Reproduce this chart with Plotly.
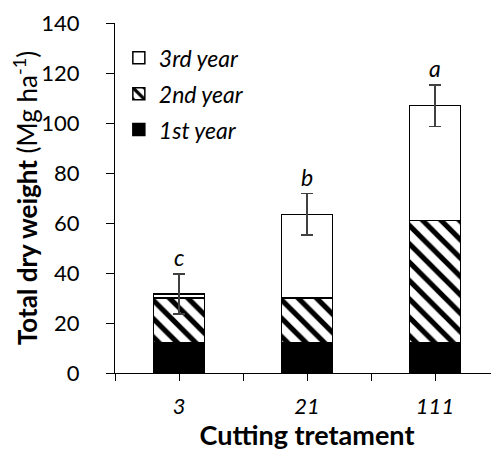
import plotly.graph_objects as go

categories = ["3", "21", "111"]
year1 = [12, 12, 12]
year2 = [18, 18, 49]
year3 = [1.7, 33.5, 46]
errors = [8, 8.3, 8.3]
letters = ["c", "b", "a"]
y_ticks = [0, 20, 40, 60, 80, 100, 120, 140]

pos = list(range(len(categories)))
FONT = "Lato"

fig = go.Figure()
fig.add_trace(go.Bar(
    x=pos, y=year1, name="1st year", legendgroup="g1", legendrank=3,
    marker=dict(color="black", line=dict(color="black", width=1.5)),
    width=0.4,
))
fig.add_trace(go.Bar(
    x=pos, y=year2, name="2nd year", legendgroup="g2", legendrank=2,
    marker=dict(color="white", line=dict(color="black", width=1.5),
                pattern=dict(shape="\\", fgcolor="black", bgcolor="white",
                             fgopacity=1, size=13, solidity=0.4)),
    width=0.4,
))
fig.add_trace(go.Bar(
    x=pos, y=year3, name="3rd year", legendgroup="g3", legendrank=1,
    marker=dict(color="white", line=dict(color="black", width=1.5)),
    width=0.4,
    error_y=dict(type="data", array=errors, visible=True, color="#404040",
                 thickness=1.5, width=6),
))

totals = [a + b + c for a, b, c in zip(year1, year2, year3)]
for p, t, e, l in zip(pos, totals, errors, letters):
    fig.add_annotation(x=p, y=t + e, text=l, showarrow=False, yanchor="bottom",
                       yshift=1, font=dict(family=FONT, size=23, color="black",
                                           style="italic"))

# tick positions: category centres and boundaries
tickvals = []
ticktext = []
for p, c in zip(pos, categories):
    tickvals += [p - 0.5, p]
    ticktext += ["", c]
tickvals.append(pos[-1] + 0.5)
ticktext.append("")

fig.update_layout(
    width=499, height=454,
    margin=dict(l=107, r=8, t=15, b=89),
    barmode="stack",
    plot_bgcolor="white", paper_bgcolor="white",
    font=dict(family=FONT, color="black"),
    showlegend=True,
    legend=dict(x=0.01, y=0.962, xanchor="left", yanchor="top",
                traceorder="grouped", tracegroupgap=3,
                font=dict(family=FONT, size=23, style="italic"),
                bgcolor="rgba(0,0,0,0)"),
    xaxis=dict(range=[-0.5, len(categories) - 0.5], tickvals=tickvals,
               ticktext=ticktext, ticks="outside", ticklen=7, tickwidth=1.2,
               tickcolor="black", showline=True, linecolor="black", linewidth=1.2,
               showgrid=False, zeroline=False, automargin=False,
               ticklabelstandoff=6,
               tickfont=dict(family=FONT, size=22, style="italic"),
               title=dict(text="<b>Cutting tretament</b>", standoff=0,
                          font=dict(family=FONT, size=27))),
    yaxis=dict(range=[0, 140], tickvals=y_ticks, ticks="outside", ticklen=8,
               tickwidth=1.2, tickcolor="black", showline=True, linecolor="black",
               linewidth=1.2, showgrid=False, zeroline=False, automargin=False,
               ticklabelstandoff=22, ticklabeloverflow="allow",
               tickfont=dict(family=FONT, size=22),
               title=dict(text="<b>Total dry weight</b> (Mg ha<sup>-1</sup>)",
                          standoff=6, font=dict(family=FONT, size=26))),
)

fig.write_html("out.html")
